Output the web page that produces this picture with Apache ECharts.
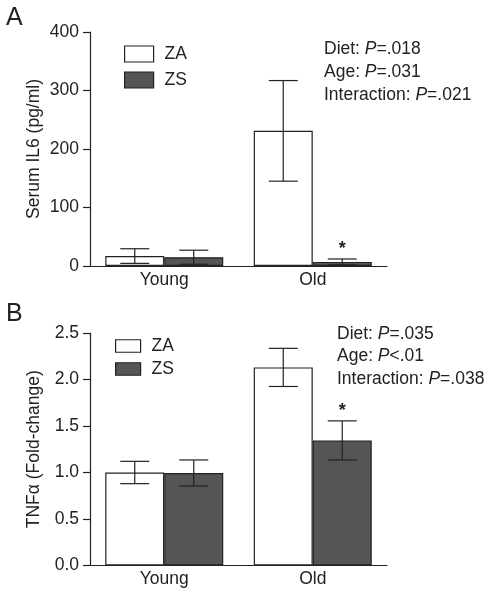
<!DOCTYPE html>
<html>
<head>
<meta charset="utf-8">
<script src="https://cdn.jsdelivr.net/npm/echarts@6/dist/echarts.min.js"></script>
<style>
html,body{margin:0;padding:0;background:#fff;}
#c{width:496px;height:601px;}
</style>
</head>
<body>
<div id="c"></div>
<script>
const categories = ['Young', 'Old'];
const seriesNames = ['ZA', 'ZS'];
// Panel A: Serum IL6 (pg/ml)
const il6ZA = [17, 231];
const il6ZAErr = [12.5, 86];
const il6ZS = [15, 7];
const il6ZSErr = [12, 5];
const il6Ticks = [0, 100, 200, 300, 400];
// Panel B: TNFα (fold-change)
const tnfZA = [1.0, 2.13];
const tnfZAErr = [0.12, 0.205];
const tnfZS = [0.995, 1.345];
const tnfZSErr = [0.14, 0.21];
const tnfTicks = [0, 0.5, 1.0, 1.5, 2.0, 2.5];
// significance markers (category index, series index)
const starsA = [[1, 1]];
const starsB = [[1, 1]];
const statsA = [['Diet: ', 'P', '=.018'], ['Age: ', 'P', '=.031'], ['Interaction: ', 'P', '=.021']];
const statsB = [['Diet: ', 'P', '=.035'], ['Age: ', 'P', '<.01'], ['Interaction: ', 'P', '=.038']];

const FONT = 'Liberation Sans, Arial, Helvetica, sans-serif';
const FS = 17.5;
const INK = '#222';
const DARK = '#555555';
const BAR_W = 59;

const chart = echarts.init(document.getElementById('c'), null, {renderer: 'canvas'});

function errSeries(name, xi, yi, means, errs, offset) {
  const data = means.map((m, i) => [i, m, errs[i]]);
  return {
    type: 'custom', xAxisIndex: xi, yAxisIndex: yi, z: 5, silent: true,
    name: name + '_err',
    renderItem: function (params, api) {
      const cx = api.coord([api.value(0), 0])[0] + offset;
      const m = api.value(1), e = api.value(2);
      const top = api.coord([api.value(0), m + e])[1];
      const bot = api.coord([api.value(0), Math.max(m - e, 0)])[1];
      const hw = 14.5;
      const st = {stroke: INK, lineWidth: 1.2};
      return {type: 'group', children: [
        {type: 'line', shape: {x1: cx, y1: top, x2: cx, y2: bot}, style: st},
        {type: 'line', shape: {x1: cx - hw, y1: top, x2: cx + hw, y2: top}, style: st},
        {type: 'line', shape: {x1: cx - hw, y1: bot, x2: cx + hw, y2: bot}, style: st}
      ]};
    },
    data: data
  };
}

function starSeries(xi, yi, stars, means, errs) {
  return {
    type: 'custom', xAxisIndex: xi, yAxisIndex: yi, z: 6, silent: true,
    renderItem: function (params, api) {
      const s = api.value(1);
      const cx = api.coord([api.value(0), 0])[0] + (s === 0 ? -BAR_W / 2 : BAR_W / 2);
      const cy = api.coord([api.value(0), api.value(2)])[1];
      return {type: 'text', style: {text: '*', x: cx, y: cy - 1, fill: INK, font: 'bold 18px ' + FONT, textAlign: 'center', textVerticalAlign: 'bottom'}};
    },
    data: stars.map(([c, s]) => {
      const m = means[s][c], e = errs[s][c];
      return [c, s, m + e];
    })
  };
}

function barSeries(name, xi, yi, values, color) {
  return {
    type: 'bar', name: name, xAxisIndex: xi, yAxisIndex: yi,
    barWidth: BAR_W, barGap: '0%',
    itemStyle: {color: color, borderColor: INK, borderWidth: 1.2},
    emphasis: {disabled: true},
    data: values
  };
}

function xAxis(gi) {
  return {
    type: 'category', gridIndex: gi, data: categories,
    axisLine: {lineStyle: {color: INK, width: 1.2}},
    axisTick: {alignWithLabel: true, length: 8, lineStyle: {color: INK, width: 1.2}},
    axisLabel: {color: INK, fontSize: FS, fontFamily: FONT, margin: 5},
    splitLine: {show: false}
  };
}

function yAxis(gi, ticks, name, fmt) {
  return {
    type: 'value', gridIndex: gi,
    min: ticks[0], max: ticks[ticks.length - 1], interval: ticks[1] - ticks[0],
    name: name, nameLocation: 'middle', nameGap: 47, nameMoveOverlap: false,
    nameTextStyle: {color: INK, fontSize: FS, fontFamily: FONT},
    axisLine: {show: true, lineStyle: {color: INK, width: 1.2}},
    axisTick: {show: true, length: 7, lineStyle: {color: INK, width: 1.2}},
    axisLabel: {color: INK, fontSize: FS, fontFamily: FONT, margin: 11, formatter: fmt},
    splitLine: {show: false}
  };
}

function statText(lines, left, top, lh) {
  return lines.map((l, i) => ({
    type: 'text', left: left, top: top + i * lh, silent: true,
    style: {
      text: '{a|' + l[0] + '}{i|' + l[1] + '}{a|' + l[2] + '}',
      rich: {
        a: {fontSize: FS, fontFamily: FONT, fill: INK, color: INK},
        i: {fontSize: FS, fontFamily: FONT, fontStyle: 'italic', fill: INK, color: INK}
      }
    }
  }));
}

const option = {
  animation: false,
  backgroundColor: '#fff',
  textStyle: {fontFamily: FONT},
  grid: [
    {left: 90, top: 32, width: 297, height: 234},
    {left: 90, top: 333, width: 297, height: 232.5}
  ],
  xAxis: [xAxis(0), xAxis(1)],
  yAxis: [
    yAxis(0, il6Ticks, 'Serum IL6 (pg/ml)', v => String(v)),
    yAxis(1, tnfTicks, 'TNFα (Fold-change)', v => v.toFixed(1))
  ],
  legend: [
    {
      left: 124, top: 45, orient: 'vertical', itemWidth: 29, itemHeight: 16, itemGap: 8,
      icon: 'rect', selectedMode: false, padding: 0,
      textStyle: {color: INK, fontSize: FS, fontFamily: FONT, lineHeight: 16, padding: [0, 0, 0, 6]},
      data: seriesNames.map(n => ({name: n, itemStyle: {borderColor: INK, borderWidth: 1.2}}))
    },
    {
      left: 115, top: 337, orient: 'vertical', itemWidth: 25, itemHeight: 12.5, itemGap: 5,
      icon: 'rect', selectedMode: false, padding: 0,
      textStyle: {color: INK, fontSize: FS, fontFamily: FONT, lineHeight: 12.5, padding: [0, 0, 0, 6]},
      data: seriesNames.map(n => ({name: n, itemStyle: {borderColor: INK, borderWidth: 1.2}}))
    }
  ],
  graphic: [
    {type: 'text', left: 6, top: 6, style: {text: 'A', font: '25px ' + FONT, fill: INK}},
    {type: 'text', left: 6, top: 302, style: {text: 'B', font: '25px ' + FONT, fill: INK}}
  ].concat(statText(statsA, 324, 40, 23)).concat(statText(statsB, 337, 325, 22.5)),
  series: [
    barSeries('ZA', 0, 0, il6ZA, '#ffffff'),
    barSeries('ZS', 0, 0, il6ZS, DARK),
    errSeries('ZA', 0, 0, il6ZA, il6ZAErr, -BAR_W / 2),
    errSeries('ZS', 0, 0, il6ZS, il6ZSErr, BAR_W / 2),
    starSeries(0, 0, starsA, [il6ZA, il6ZS], [il6ZAErr, il6ZSErr]),
    barSeries('ZA', 1, 1, tnfZA, '#ffffff'),
    barSeries('ZS', 1, 1, tnfZS, DARK),
    errSeries('ZA', 1, 1, tnfZA, tnfZAErr, -BAR_W / 2),
    errSeries('ZS', 1, 1, tnfZS, tnfZSErr, BAR_W / 2),
    starSeries(1, 1, starsB, [tnfZA, tnfZS], [tnfZAErr, tnfZSErr])
  ]
};
chart.setOption(option);
</script>
</body>
</html>
